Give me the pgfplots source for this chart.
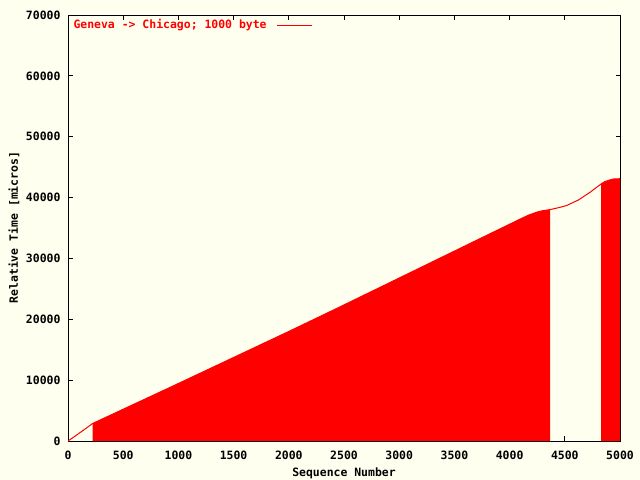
\documentclass[border=0pt]{standalone}
\usepackage{pgfplots}
\pgfplotsset{compat=1.18}
\usepackage{fontspec}
\setmainfont{DejaVu Sans Mono}
\definecolor{bg}{RGB}{255,255,240}
\definecolor{gred}{RGB}{255,0,0}
\newcommand{\gfont}{\fontsize{11.5}{13}\selectfont\bfseries}
\begin{document}
\begin{tikzpicture}
\fill[bg] (0,0) rectangle (640bp,480bp);
\useasboundingbox (0,0) rectangle (640bp,480bp);
\begin{axis}[
  at={(68bp,39bp)}, anchor=south west,
  scale only axis, width=552bp, height=426bp,
  xmin=0, xmax=5000, ymin=0, ymax=70000,
  xtick={0,500,...,5000}, ytick={0,10000,...,70000},
  scaled ticks=false,
  /pgf/number format/1000 sep={},
  /pgf/number format/assume math mode=true,
  tick align=inside, major tick length=4.5bp,
  axis line style={line width=1bp, black},
  every tick/.style={black, line width=1bp},
  tick label style={font=\gfont},
  xticklabel style={anchor=center, yshift=-14bp},
  yticklabel style={anchor=east, xshift=-4bp},
  label style={font=\gfont},
  xlabel={Sequence Number},
  ylabel={Relative Time [micros]},
  xlabel style={at={(axis description cs:0.5,-0.0751)}, anchor=center},
  ylabel style={at={(axis description cs:-0.0978,0.501)}, anchor=center, rotate=0},
  legend plot pos=right,
  legend style={at={(axis description cs:0.006,0.9765)}, anchor=west,
    draw=none, fill=none, text=gred, font=\gfont, inner sep=0pt},
  legend image code/.code={\path[draw=none, fill=none] (0bp,-2bp) rectangle (43bp,2bp);
    \draw[gred, line width=1bp] (8bp,0bp) -- (43bp,0bp);},
]
\addplot[fill=gred, draw=none, forget plot] coordinates {
 (222,0) (222,2870) (1000,9450) (2000,18000) (2418,21640) (3000,26780)
 (3460,30850) (3822,34050) (4000,35620) (4094,36450) (4170,37100) (4245,37600)
 (4300,37850) (4366,38020) (4366,0)
} -- cycle;
\addplot[fill=gred, draw=none, forget plot] coordinates {
 (4830,0) (4830,42250) (4860,42600) (4900,42850) (4940,43050) (5000,43100) (5000,0)
} -- cycle;
\addplot[gred, line width=1bp] coordinates {
 (0,0) (60,750) (120,1520) (180,2300) (220,2850) (1000,9450) (2000,18000)
 (2418,21640) (3000,26780) (3460,30850) (3822,34050) (4000,35620) (4094,36450)
 (4170,37100) (4245,37600) (4300,37850) (4366,38020) (4457,38400) (4517,38700)
 (4623,39600) (4728,40860) (4828,42230)
 (4860,42600) (4900,42850) (4940,43050) (5000,43100)
};
\addlegendentry{Geneva -> Chicago; 1000 byte}
\end{axis}
\end{tikzpicture}
\end{document}
